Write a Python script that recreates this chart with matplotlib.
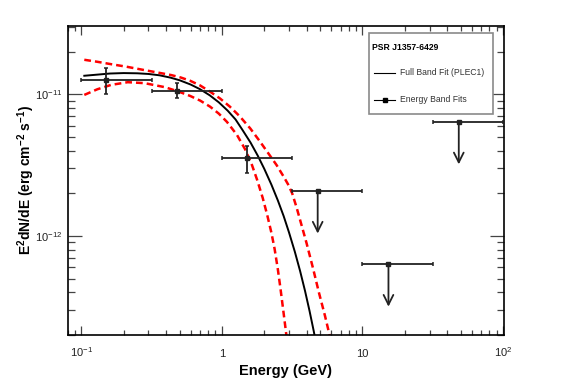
import matplotlib
matplotlib.use('Agg')
import matplotlib.pyplot as plt
import numpy as np
from matplotlib.ticker import FixedLocator, FixedFormatter, LogLocator, NullFormatter
from matplotlib.patches import Rectangle
from matplotlib.lines import Line2D

# energy bands (GeV)
band_lo = [0.1, 0.316, 1.0]
band_hi = [0.316, 1.0, 3.16]
pt_e = [0.150, 0.477, 1.51]
pt_f = [1.26e-11, 1.055e-11, 3.55e-12]
pt_f_hi = [1.52e-11, 1.20e-11, 4.3e-12]
pt_f_lo = [1.00e-11, 9.4e-12, 2.79e-12]

# upper limits
ul_lo = [3.16, 10.0, 31.6]
ul_hi = [10.0, 31.6, 100.0]
ul_e = [4.8, 15.3, 48.4]
ul_f = [2.08e-12, 6.3e-13, 6.38e-12]
ul_tip = [1.04e-12, 3.17e-13, 3.2e-12]

# full band fit (PLEC1) and its error envelope
fit_e = [0.105, 0.13, 0.16, 0.20, 0.25, 0.30, 0.36, 0.43, 0.50, 0.60, 0.70,
         0.82, 0.95, 1.10, 1.25, 1.40, 1.60, 1.80, 2.00, 2.25, 2.50, 2.75,
         3.00, 3.30, 3.60, 3.90, 4.20, 4.50, 4.80]
fit_f = [1.35e-11, 1.375e-11, 1.40e-11, 1.41e-11, 1.405e-11, 1.39e-11,
         1.36e-11, 1.31e-11, 1.255e-11, 1.17e-11, 1.084e-11, 9.82e-12,
         8.77e-12, 7.65e-12, 6.64e-12, 5.6e-12, 4.55e-12, 3.68e-12, 2.98e-12,
         2.3e-12, 1.78e-12, 1.38e-12, 1.06e-12, 7.75e-13, 5.65e-13, 4.1e-13,
         2.96e-13, 2.13e-13, 1.53e-13]
up_e = [0.105, 0.13, 0.163, 0.21, 0.282, 0.35, 0.436, 0.51, 0.594, 0.70, 0.824,
        0.97, 1.14, 1.34, 1.59, 1.85, 2.15, 2.45, 2.75, 2.95, 3.16, 3.4, 3.7,
        4.0, 4.45, 4.9, 5.4, 5.83, 6.1]
up_f = [1.75e-11, 1.694e-11, 1.629e-11, 1.563e-11, 1.479e-11, 1.422e-11,
        1.365e-11, 1.312e-11, 1.245e-11, 1.153e-11, 1.042e-11, 9.33e-12,
        8.17e-12, 6.98e-12, 5.74e-12, 4.69e-12, 3.80e-12, 3.16e-12, 2.62e-12,
        2.32e-12, 2.00e-12, 1.585e-12, 1.175e-12, 8.9e-13, 5.9e-13, 3.98e-13,
        2.75e-13, 2.0e-13, 1.65e-13]
lo_e = [0.105, 0.13, 0.163, 0.214, 0.282, 0.392, 0.488, 0.594, 0.70, 0.824,
        0.95, 1.086, 1.28, 1.46, 1.637, 1.78, 1.95, 2.10, 2.25, 2.37, 2.5,
        2.61, 2.75, 2.87, 2.95]
lo_f = [9.89e-12, 1.084e-11, 1.164e-11, 1.216e-11, 1.197e-11, 1.122e-11,
        1.047e-11, 9.73e-12, 9.02e-12, 8.17e-12, 7.30e-12, 6.38e-12, 5.16e-12,
        4.10e-12, 3.16e-12, 2.49e-12, 1.858e-12, 1.406e-12, 1.052e-12,
        8.11e-13, 5.81e-13, 4.25e-13, 2.83e-13, 2.02e-13, 1.58e-13]

xticks = [0.1, 1, 10, 100]
xticklabels = ['$10^{-1}$', '1', '10', '$10^{2}$']
yticks = [1e-12, 1e-11]
yticklabels = ['$10^{-12}$', '$10^{-11}$']

plt.rcParams['font.family'] = ['Liberation Sans', 'DejaVu Sans']
plt.rcParams['mathtext.fontset'] = 'custom'
plt.rcParams['mathtext.rm'] = 'Liberation Sans'
plt.rcParams['mathtext.it'] = 'Liberation Sans:italic'
plt.rcParams['mathtext.bf'] = 'Liberation Sans:bold'

fig = plt.figure(figsize=(5.67, 3.84), dpi=100)
ax = fig.add_axes([0.1194, 0.1276, 0.77, 0.8047])
ax.set_xscale('log')
ax.set_yscale('log')

dark = '#222222'

ax.plot(up_e, up_f, color='red', lw=1.8, dashes=(2.7, 1.6))
ax.plot(lo_e, lo_f, color='red', lw=1.8, dashes=(2.7, 1.6))
ax.plot(fit_e, fit_f, color='black', lw=1.4)

pe = np.array(pt_e)
pf = np.array(pt_f)
ax.errorbar(pe, pf,
            xerr=[pe - np.array(band_lo), np.array(band_hi) - pe],
            yerr=[pf - np.array(pt_f_lo), np.array(pt_f_hi) - pf],
            fmt='s', ms=2.5, color=dark, ecolor=dark, elinewidth=1.3,
            capsize=1.6, capthick=1.1, zorder=4)

ue = np.array(ul_e)
ax.errorbar(ue, ul_f,
            xerr=[ue - np.array(ul_lo), np.array(ul_hi) - ue],
            fmt='s', ms=2.5, color=dark, ecolor=dark, elinewidth=1.3,
            capsize=1.6, capthick=1.1, zorder=4)
for e, f, t in zip(ul_e, ul_f, ul_tip):
    ax.annotate('', xy=(e, t), xytext=(e, f),
                arrowprops=dict(arrowstyle='->,head_length=0.7,head_width=0.35',
                                color=dark, lw=1.3, shrinkA=0, shrinkB=0))

ax.set_xlim(0.08, 102)
ax.set_ylim(2e-13, 3.03e-11)

ax.xaxis.set_major_locator(FixedLocator(xticks))
ax.xaxis.set_major_formatter(FixedFormatter(xticklabels))
ax.xaxis.set_minor_locator(LogLocator(base=10, subs=np.arange(2, 10)))
ax.xaxis.set_minor_formatter(NullFormatter())
ax.yaxis.set_major_locator(FixedLocator(yticks))
ax.yaxis.set_major_formatter(FixedFormatter(yticklabels))
ax.yaxis.set_minor_locator(LogLocator(base=10, subs=np.arange(2, 10)))
ax.yaxis.set_minor_formatter(NullFormatter())

ax.tick_params(which='both', direction='in', top=True, right=True,
               labelsize=8, labelcolor=dark, color='#444444', width=0.9)
ax.tick_params(axis='x', which='major', length=6.5, pad=15.5)
ax.tick_params(axis='x', which='minor', length=3.6)
ax.tick_params(axis='y', which='major', length=10, pad=4)
ax.tick_params(axis='y', which='minor', length=5)
for lab in ax.get_xticklabels():
    lab.set_verticalalignment('baseline')
for s in ax.spines.values():
    s.set_linewidth(1.2)

ax.set_xlabel('Energy (GeV)', fontsize=10.5, fontweight='bold', labelpad=4)
ax.set_ylabel(r'$\mathbf{E^{2}dN/dE\ (erg\ cm^{-2}\ s^{-1})}$', fontsize=10,
              labelpad=-1.5)

# legend box
ax.add_patch(Rectangle((0.690, 0.715), 0.285, 0.261, transform=ax.transAxes,
                       facecolor='white', edgecolor='#8a8a8a', lw=1.2, zorder=5))
ax.text(0.697, 0.932, 'PSR J1357-6429', transform=ax.transAxes, fontsize=6.2,
        fontweight='bold', va='center', ha='left', zorder=6)
ax.add_line(Line2D([0.702, 0.750], [0.848, 0.848], transform=ax.transAxes,
                   color='black', lw=0.8, zorder=6))
ax.text(0.760, 0.848, 'Full Band Fit (PLEC1)', transform=ax.transAxes,
        fontsize=6.2, va='center', ha='left', color='#333333', zorder=6)
ax.add_line(Line2D([0.702, 0.750], [0.761, 0.761], transform=ax.transAxes,
                   color='black', lw=0.8, zorder=6))
ax.add_line(Line2D([0.726], [0.761], transform=ax.transAxes, marker='s',
                   ms=3, color='black', zorder=6))
ax.text(0.760, 0.761, 'Energy Band Fits', transform=ax.transAxes,
        fontsize=6.2, va='center', ha='left', color='#333333', zorder=6)

fig.savefig('out.png', dpi=100)
